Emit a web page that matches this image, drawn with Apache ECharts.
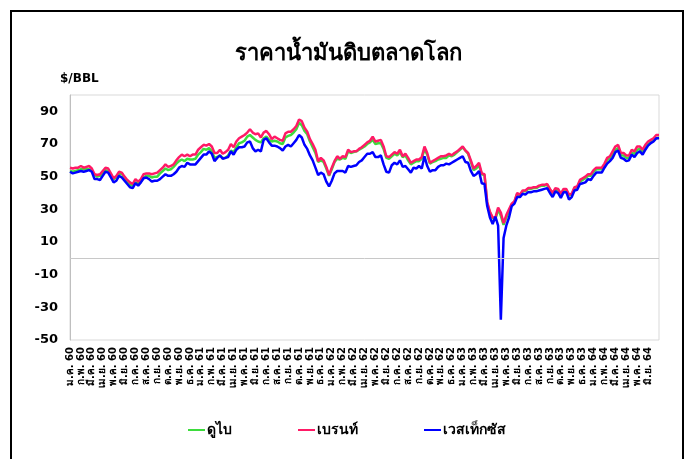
<!DOCTYPE html>
<html>
<head>
<meta charset="utf-8">
<title>ราคาน้ำมันดิบตลาดโลก</title>
<script src="https://cdn.jsdelivr.net/npm/echarts@6/dist/echarts.min.js"></script>
<style>
    body { margin: 0; background: #fff; }
    #chart { width: 696px; height: 459px; }
</style>
</head>
<body>
<div id="chart"></div>
<script>
    // ชื่อเดือน / ปี (พ.ศ.) ของแกน X
    var monthNames = ['ม.ค.', 'ก.พ.', 'มี.ค.', 'เม.ย.', 'พ.ค.', 'มิ.ย.', 'ก.ค.', 'ส.ค.', 'ก.ย.', 'ต.ค.', 'พ.ย.', 'ธ.ค.'];
    var yearNames = ['60', '61', '62', '63', '64'];
    var monthCount = 54; // ม.ค. 60 - มิ.ย. 64
    var pointsPerMonth = 4;

    // ราคารายสัปดาห์ (ประมาณ) $/BBL
    var dubai = [
        // 2560
        53.5,53.0,53.5,54.0, 54.5,54.5,55.0,54.5, 53.5,51.0,50.0,50.5, 52.5,54.0,53.5,51.0,
        48.5,49.5,51.5,52.0, 48.5,46.5,45.0,44.5, 46.5,46.0,47.0,49.5, 50.5,50.5,49.5,50.0,
        50.0,52.0,53.5,55.0, 54.0,54.5,56.0,58.0, 59.5,60.5,59.5,61.0, 60.5,60.5,61.0,63.5,
        // 2561
        65.0,67.0,66.5,67.5, 65.5,61.5,62.0,63.0, 61.5,61.5,63.0,66.0, 65.0,68.0,70.5,71.0,
        72.0,74.5,75.5,74.0, 72.5,71.5,71.0,73.5, 74.5,72.5,71.5,72.0, 71.5,70.5,70.0,74.0,
        75.0,75.5,77.0,79.0, 83.0,81.5,78.0,76.0, 71.5,68.0,64.5,59.0, 60.0,59.0,55.0,50.5,
        // 2562
        54.5,59.0,61.0,60.5, 61.5,61.0,65.5,64.5, 65.0,65.5,66.5,67.5, 68.5,70.0,71.0,72.5,
        70.0,70.5,70.5,67.0, 61.5,61.0,62.5,64.0, 63.0,65.0,62.0,63.0, 60.0,57.5,58.5,59.5,
        59.5,61.0,67.0,63.5, 58.0,59.0,59.5,60.5, 61.0,61.5,61.5,63.0, 62.5,63.5,65.0,66.5,
        // 2563
        68.0,66.0,64.0,59.0, 54.0,55.0,57.0,51.5, 51.0,33.5,28.0,24.5, 24.0,30.0,26.0,20.5,
        25.0,29.0,32.5,34.5, 39.5,38.5,41.0,41.0, 42.5,42.5,43.0,43.0, 44.0,44.5,44.5,45.0,
        42.0,39.5,42.0,41.5, 39.0,41.5,41.5,38.5, 39.0,43.0,43.5,47.0, 48.0,49.0,50.5,50.5,
        // 2564
        53.0,54.5,54.5,54.5, 56.5,60.0,61.5,63.5, 66.5,67.5,63.0,63.0, 61.5,61.5,64.5,64.0,
        66.5,67.0,65.0,68.0, 70.0,71.0,72.0,73.5, 74.0
    ];
    var brent = [
        // 2560
        55.5,55.0,55.5,55.5, 56.5,55.5,56.0,56.5, 55.0,51.5,51.0,51.5, 53.5,55.5,55.0,52.0,
        49.0,50.5,53.0,52.5, 50.0,48.0,46.5,45.5, 48.5,47.0,48.5,51.5, 52.0,52.0,51.5,52.0,
        52.5,54.0,55.5,57.5, 56.0,56.5,57.5,60.0, 62.0,63.5,62.5,63.5, 62.5,63.5,63.5,66.5,
        // 2561
        68.0,69.5,69.0,70.0, 68.5,64.5,64.5,66.5, 64.0,65.0,66.5,70.0, 68.0,71.5,73.5,74.5,
        75.5,77.0,79.0,77.0, 76.0,76.5,74.0,77.0, 78.0,76.0,73.0,74.5, 73.5,72.5,72.0,76.5,
        77.5,77.5,79.0,81.0, 85.0,84.0,80.0,77.5, 73.0,70.0,66.5,59.5, 61.5,60.0,56.0,51.0,
        // 2562
        55.5,59.5,62.5,61.0, 62.5,62.0,66.5,65.0, 65.5,65.5,67.0,68.0, 69.5,71.0,72.0,74.5,
        71.5,72.0,72.5,68.5, 62.5,62.0,63.5,65.0, 64.0,66.5,62.5,64.0, 61.5,58.5,59.5,60.5,
        60.5,62.0,68.5,64.5, 58.5,59.5,60.5,61.5, 62.5,62.5,63.0,64.0, 63.0,64.5,65.5,67.0,
        // 2563
        68.5,66.0,64.5,60.0, 55.0,56.5,58.5,52.0, 51.5,34.5,28.5,25.0, 25.0,31.0,28.0,21.5,
        26.5,30.0,33.5,35.0, 40.0,39.0,41.5,41.5, 43.0,43.0,43.5,43.5, 44.5,45.0,45.0,45.5,
        42.5,40.0,43.0,42.5, 39.5,42.5,42.5,39.0, 39.5,43.5,44.0,48.0, 49.0,50.0,51.5,51.5,
        // 2564
        54.0,55.5,55.5,55.5, 58.0,61.5,62.5,65.5, 68.5,69.5,64.5,64.5, 63.0,63.0,66.5,65.5,
        68.5,68.5,66.5,69.5, 71.5,72.5,73.5,75.5, 75.5
    ];
    var wti = [
        // 2560
        53.0,52.0,52.5,53.0, 53.5,53.0,53.5,54.0, 53.0,48.5,48.5,48.0, 50.5,53.0,52.5,49.5,
        46.5,47.5,50.5,49.5, 47.5,45.5,43.5,43.0, 46.0,44.5,46.5,49.0, 49.5,48.5,47.0,47.5,
        47.5,48.5,50.0,51.5, 50.5,50.5,51.5,53.0, 55.5,56.5,56.0,58.5, 57.5,57.5,57.5,59.5,
        // 2561
        61.5,63.5,63.5,65.5, 64.0,59.5,61.5,63.0, 61.0,61.5,62.0,65.5, 63.5,66.5,68.0,68.0,
        68.5,71.0,71.5,67.5, 65.5,66.5,65.5,72.5, 73.5,71.0,69.0,69.0, 68.5,67.5,66.0,68.5,
        69.5,68.5,70.5,72.5, 75.5,74.0,69.5,67.0, 63.0,60.0,55.5,51.0, 52.5,51.5,47.0,44.0,
        // 2562
        47.5,52.0,53.5,53.5, 53.5,52.5,56.5,56.0, 56.5,57.0,59.0,60.0, 62.0,64.0,64.0,65.0,
        62.0,62.0,63.0,57.5, 53.0,52.5,57.0,58.5, 57.5,60.0,56.0,56.5, 54.5,52.5,55.5,55.0,
        56.5,55.0,62.5,56.5, 53.0,54.0,54.0,56.0, 57.0,57.0,58.0,57.5, 58.5,59.5,60.5,61.5,
        // 2563
        62.5,59.0,58.5,53.5, 50.5,51.5,53.5,46.0, 45.5,32.0,25.0,21.0, 25.5,20.0,-37.6,12.5,
        20.0,25.0,32.0,33.5, 37.5,37.5,39.5,39.0, 40.5,40.5,41.0,41.0, 41.5,42.0,42.5,43.0,
        40.0,37.5,41.0,40.0, 37.0,40.5,40.5,36.0, 37.5,41.5,42.0,45.5, 46.0,46.5,48.5,48.0,
        // 2564
        50.5,52.5,52.5,52.5, 55.5,58.0,59.5,61.5, 65.0,66.0,61.5,61.0, 59.5,60.0,63.5,62.0,
        64.5,65.5,63.5,66.5, 69.0,70.5,71.5,73.5, 73.5
    ];

    var monthLabels = [];
    for (var m = 0; m < monthCount; m++) {
        monthLabels.push(monthNames[m % 12] + ' ' + yearNames[Math.floor(m / 12)]);
    }

    function toPoints(values) {
        return values.map(function (v, i) {
            return [i / pointsPerMonth, v];
        });
    }

    var font = "'DejaVu Sans', 'Noto Sans', sans-serif";

    var myChart = echarts.init(document.getElementById('chart'));
    var option = {
        animation: false,
        backgroundColor: '#fff',
        textStyle: { fontFamily: font },
        title: [
            {
                text: 'ราคาน้ำมันดิบตลาดโลก',
                left: 'center',
                top: 38,
                textStyle: { fontSize: 22, fontWeight: 'bold', color: '#000', fontFamily: font }
            },
            {
                text: '$/BBL',
                left: 55,
                top: 68,
                textStyle: { fontSize: 12, fontWeight: 'bold', color: '#000', fontFamily: font }
            }
        ],
        graphic: [
            {
                type: 'rect',
                shape: { x: 11, y: 11, width: 672, height: 470 },
                style: { fill: 'none', stroke: '#000', lineWidth: 2 },
                silent: true
            }
        ],
        legend: {
            left: 183,
            top: 418,
            icon: 'rect',
            itemGap: 66,
            itemWidth: 17,
            itemHeight: 2,
            textStyle: { fontSize: 14, fontWeight: 'bold', color: '#000', fontFamily: font, padding: [0, 0, 0, -3] },
            data: ['ดูไบ', 'เบรนท์', 'เวสเท็กซัส']
        },
        grid: {
            left: 70,
            right: 37,
            top: 95,
            bottom: 119,
            show: true,
            borderColor: '#d9d9d9',
            borderWidth: 1
        },
        xAxis: {
            type: 'value',
            min: 0,
            max: monthCount,
            interval: 1,
            axisLine: { show: false },
            axisTick: { show: false },
            splitLine: { show: false },
            axisLabel: {
                rotate: 90,
                margin: 7,
                fontSize: 10,
                fontWeight: 'bold',
                color: '#000',
                showMaxLabel: false,
                formatter: function (v) {
                    return monthLabels[v] || '';
                }
            }
        },
        yAxis: {
            type: 'value',
            min: -50,
            max: 100,
            interval: 20,
            axisLine: { show: true, lineStyle: { color: '#bfbfbf', width: 1 } },
            axisTick: { show: false },
            splitLine: { show: false },
            axisLabel: {
                margin: 12,
                fontSize: 13,
                fontWeight: 'bold',
                color: '#000',
                showMaxLabel: false
            }
        },
        series: [
            {
                name: 'ดูไบ',
                type: 'line',
                symbol: 'none',
                data: toPoints(dubai),
                color: '#3ddc3d',
                lineStyle: { width: 2.5 },
                markLine: {
                    silent: true,
                    symbol: 'none',
                    label: { show: false },
                    lineStyle: { color: '#c8c8c8', width: 1, type: 'solid' },
                    data: [{ yAxis: 0 }]
                }
            },
            {
                name: 'เบรนท์',
                type: 'line',
                symbol: 'none',
                data: toPoints(brent),
                color: '#ff1a66',
                lineStyle: { width: 2.5 }
            },
            {
                name: 'เวสเท็กซัส',
                type: 'line',
                symbol: 'none',
                data: toPoints(wti),
                color: '#0000ff',
                lineStyle: { width: 2.5 }
            }
        ]
    };
    myChart.setOption(option);
</script>
</body>
</html>
